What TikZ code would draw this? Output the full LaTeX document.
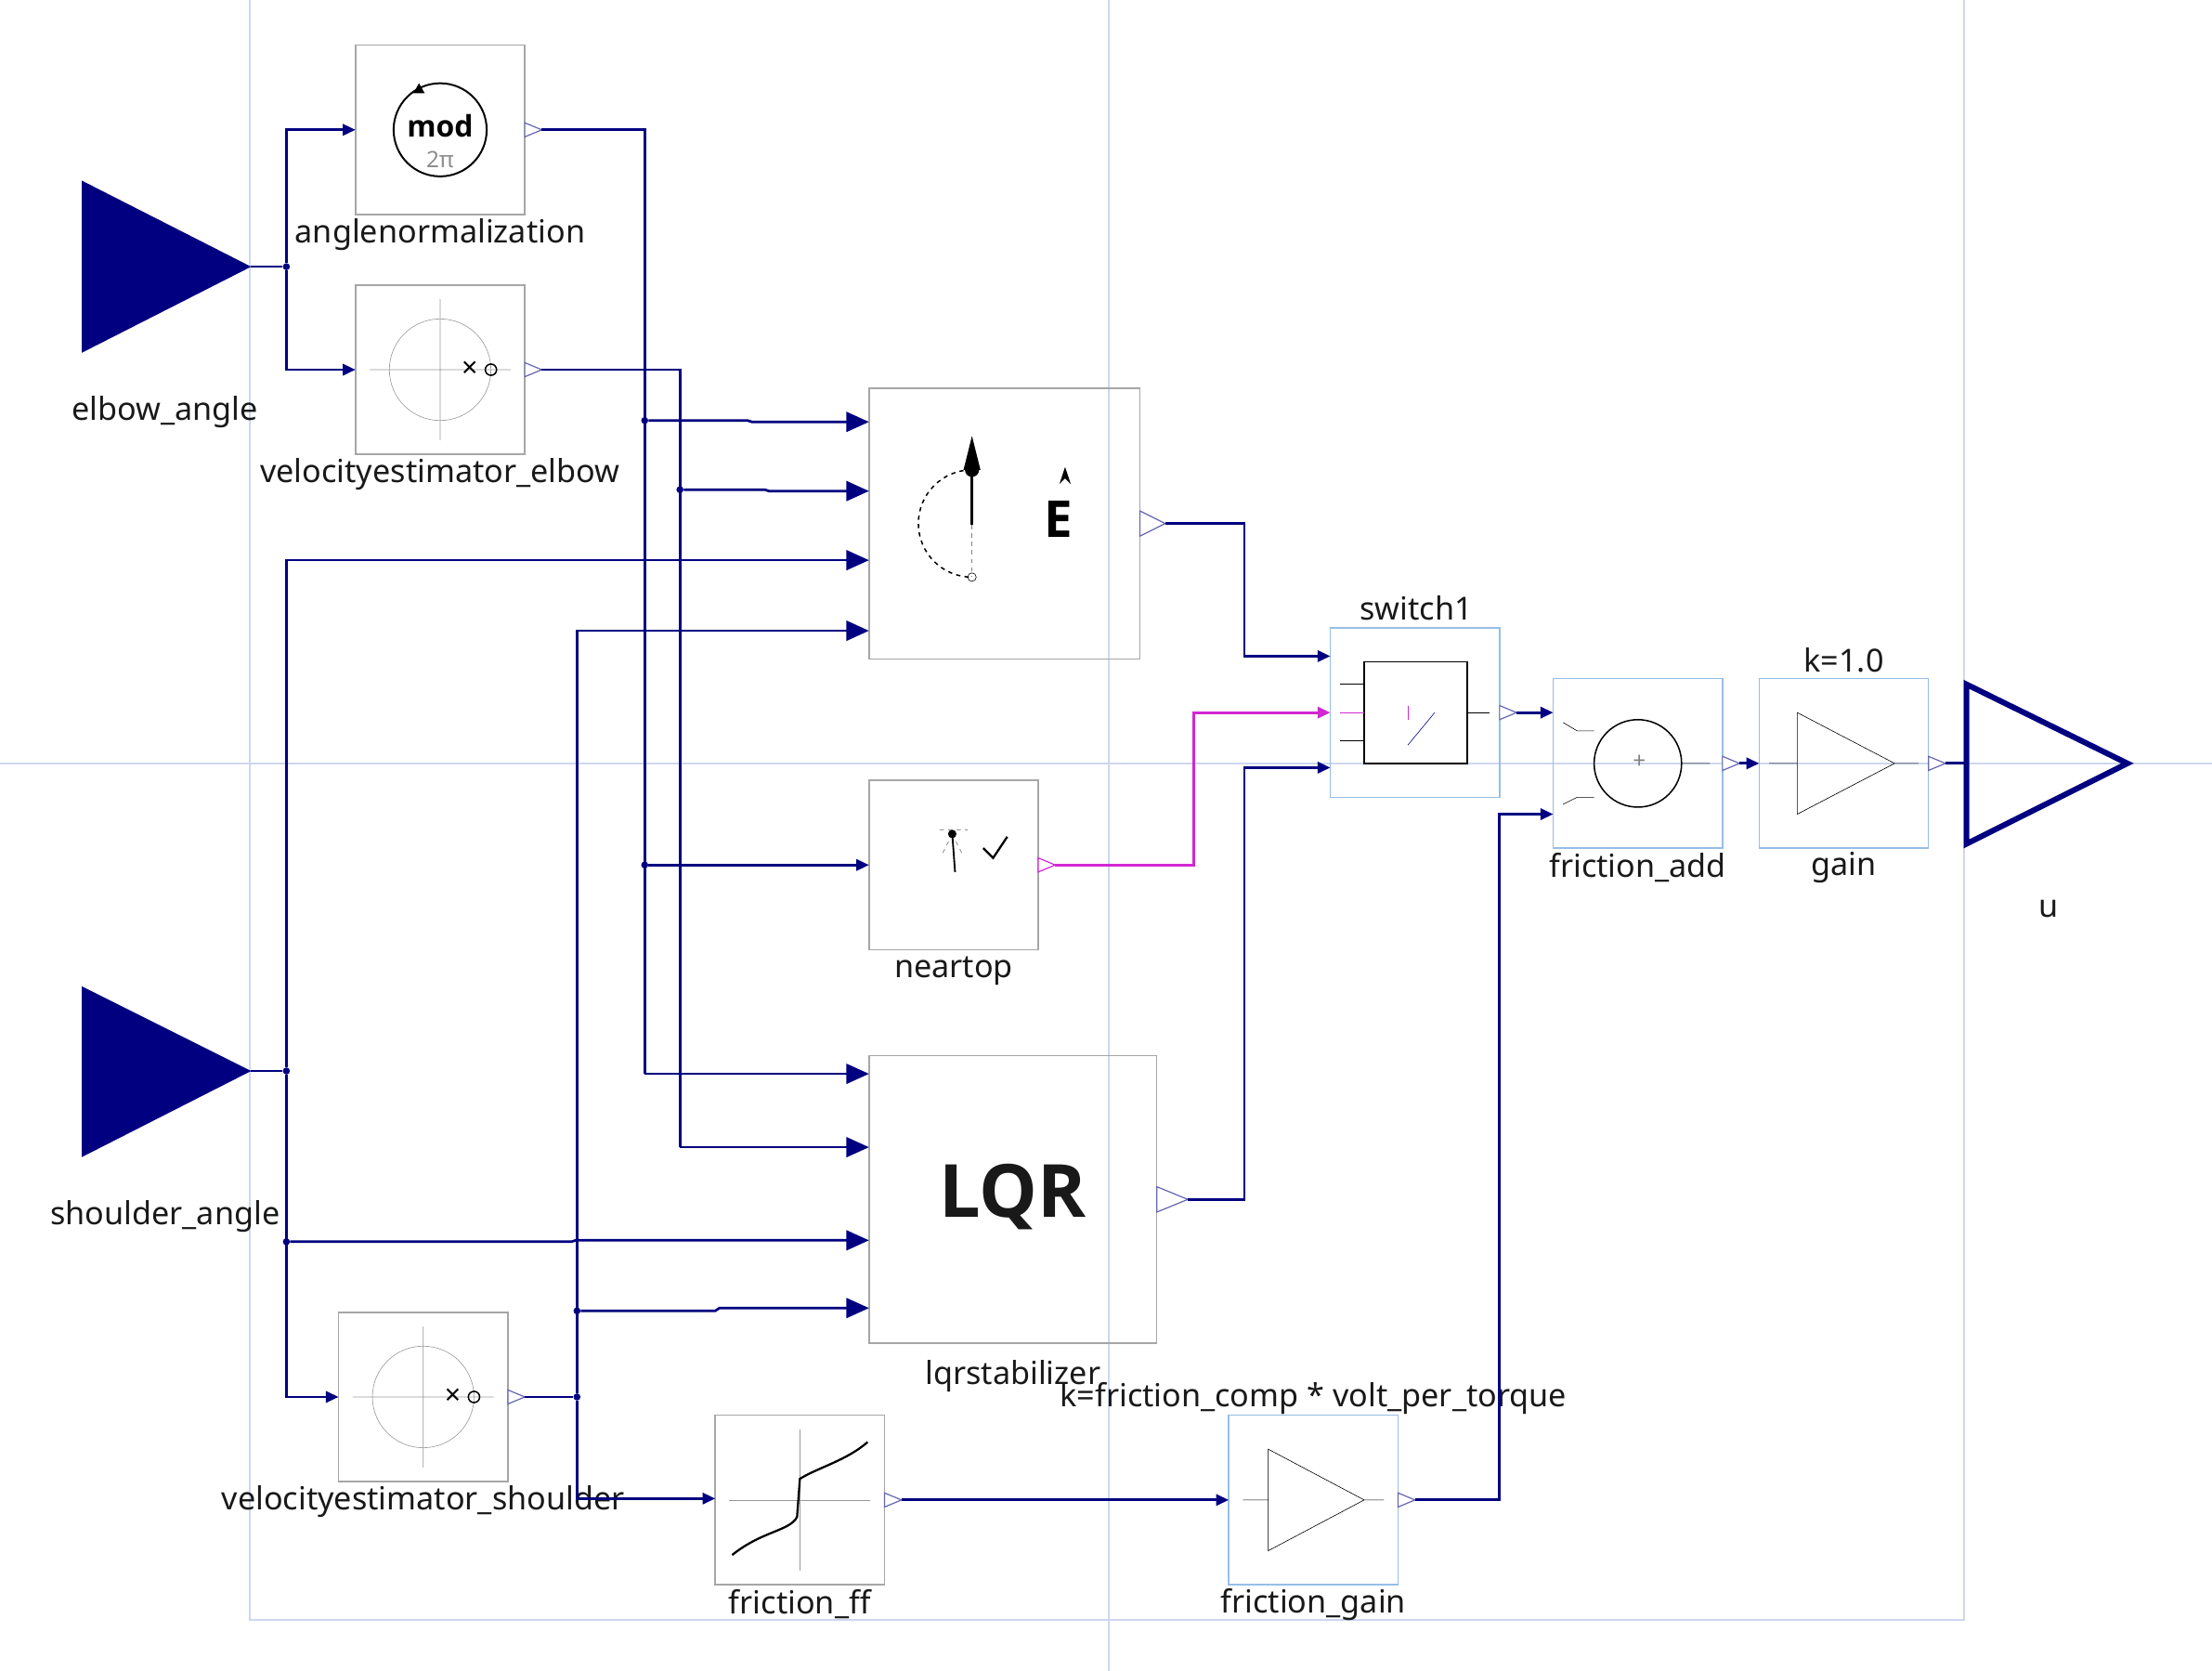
\documentclass[tikz,border=0pt]{standalone}
\usepackage{fontspec}
\setmainfont{Noto Sans}
\newfontfamily\boldfam{Open Sans}
\usetikzlibrary{arrows.meta}
\definecolor{nv}{RGB}{0,0,128}
\definecolor{grid}{RGB}{205,215,240}
\definecolor{mg}{RGB}{210,40,210}
\definecolor{lb}{RGB}{150,190,230}
\begin{document}
\begin{tikzpicture}[x=1pt,y=-1pt,
  blk/.style={draw=black!35,line width=1pt,minimum width=120pt,minimum height=120pt,inner sep=0pt},
  bblk/.style={blk,draw=lb},
  lbl/.style={font=\fontsize{22.5}{25}\selectfont,text=black!90},
  w/.style={draw=nv,line width=1.8pt},
  a/.style={w,-{Triangle[length=16pt,width=14pt]}},
  sa/.style={w,-{Triangle[length=9pt,width=8pt]}},
  dot/.style={circle,fill=nv,inner sep=0pt,minimum size=5pt},
  op/.style={draw=nv!60,line width=0.8pt}]
\useasboundingbox (0,0) rectangle (1568,1184);
% grid
\draw[grid,line width=1.5pt] (177,0) -- (177,1148) -- (1392,1148) -- (1392,0);
\draw[grid,line width=1pt] (0,541) -- (1568,541) (786,0) -- (786,1184);
% inputs
\fill[nv] (58,128) -- (58,250) -- (178,189) -- cycle;
\fill[nv] (58,699) -- (58,820) -- (178,759) -- cycle;
\node[lbl] at (117,292) {elbow\_angle};
\node[lbl] at (117,862) {shoulder\_angle};
\draw[nv,line width=4pt,line join=miter] (1394,485) -- (1394,598) -- (1508,541) -- cycle;
\node[lbl] at (1452,644) {u};
% blocks
\node[blk,fill=white] (an) at (312,92) {};
\node[lbl] at (312,166) {anglenormalization};
\draw[line width=1.3pt] (312,92) circle (33pt);
\node[font=\boldfam\bfseries\fontsize{21}{24}\selectfont] at (312,89) {mod};
\node[font=\fontsize{16}{18}\selectfont,text=black!45] at (312,113) {2π};
\fill (297,59) -- (301,66) -- (293,66) -- cycle;
\node[blk,fill=white] (ve) at (312,262) {};
\node[lbl] at (312,336) {velocityestimator\_elbow};
\node[blk,fill=white] (vs) at (300,990) {};
\node[lbl] at (300,1064) {velocityestimator\_shoulder};
\foreach \cx/\cy in {312/262,300/990}{
 \begin{scope}[shift={(\cx,\cy)}]
 \draw[black!40] (0,0) circle (36pt) (-50,0)--(50,0) (0,-50)--(0,50);
 \node[font=\fontsize{20}{22}\selectfont] at (21,0) {×};
 \draw[line width=1pt] (36,0) circle (4pt);
 \end{scope}}
\node[blk,minimum width=192pt,minimum height=192pt] (en) at (712,371) {};
\draw[dashed,line width=1pt] (689,333) arc (90:270:38pt);
\draw[line width=2pt] (689,333) -- (689,372);
\draw[dashed,black!50] (689,372) -- (689,409);
\fill (689,333) circle (5pt);
\fill (689,309) -- (695,333) -- (683,333) -- cycle;
\draw (689,409) circle (3pt);
\node[font=\boldfam\bfseries\fontsize{36}{38}\selectfont] at (750,368) {E};
\fill (755,331) -- (759,343) -- (755,339) -- (751,343) -- cycle;
\node[blk] (nt) at (676,613) {};
\node[lbl] at (676,688) {neartop};
\draw[dashed,black!60] (675,591) -- (668,605) (675,591)--(682,605) (666,588) -- (686,588);
\draw[line width=1.2pt] (675,591) -- (677,618);
\fill (675,591) circle (3pt);
\draw[line width=1.5pt] (697,601) -- (704,608) -- (714,593);
\node[blk,minimum width=204pt,minimum height=204pt] (lq) at (718,850) {};
\node[font=\boldfam\bfseries\fontsize{52}{56}\selectfont,text=black!90] at (718,848) {LQR};
\node[lbl] at (718,975) {lqrstabilizer};
\node[blk] (ff) at (567,1063) {};
\node[lbl] at (567,1137) {friction\_ff};
\draw[black!40] (517,1063) -- (617,1063) (567,1013) -- (567,1113);
\draw[line width=1.5pt] (519,1102) .. controls (540,1085) and (560,1085) .. (565,1075) -- (567,1048) .. controls (580,1040) and (600,1035) .. (615,1022);
\node[bblk] (fg) at (931,1063) {};
\node[lbl] at (931,1137) {friction\_gain};
\node[lbl] at (931,991) {k=friction\_comp * volt\_per\_torque};
\draw (899,1027) -- (899,1099) -- (967,1063) -- cycle (881,1063)--(899,1063) (967,1063)--(981,1063);
\node[bblk] (sw) at (1003,505) {};
\node[lbl] at (1004,431) {switch1};
\draw[line width=1pt] (967,469) rectangle (1040,541);
\draw (950,485) -- (967,485) (950,525)--(967,525) (1040,505)--(1056,505);
\draw[mg] (950,505) -- (967,505) (998,500) -- (998,510);
\draw[nv] (998,528) -- (1017,505);
\node[bblk] (fa) at (1161,541) {};
\node[lbl] at (1161,615) {friction\_add};
\draw[line width=1pt] (1161,541) circle (31pt);
\node[text=black!50,font=\fontsize{16}{18}\selectfont] at (1162,540) {+};
\draw (1108,512) -- (1118,518) -- (1130,518) (1108,570)--(1118,565)--(1130,565) (1192,541)--(1212,541);
\node[bblk] (gn) at (1307,541) {};
\node[lbl] at (1307,615) {gain};
\node[lbl] at (1307,468) {k=1.0};
\draw (1274,505) -- (1274,577) -- (1343,541) -- cycle (1254,541)--(1274,541) (1343,541)--(1360,541);
% output ports
\foreach \x/\y in {372/92,372/262,360/990,627/1063,991/1063,1063/505,1221/541,1367/541}{
 \draw[op,fill=white] (\x,\y-5) -- (\x+12,\y) -- (\x,\y+5) -- cycle;}
\draw[op,fill=white] (808,362) -- (826,371) -- (808,380) -- cycle;
\draw[op,fill=white] (820,841) -- (842,850) -- (820,859) -- cycle;
\draw[op,draw=mg,fill=white] (736,608) -- (748,613) -- (736,618) -- cycle;
% wires
\coordinate (e0) at (178,189); \node[dot] (d1) at (203,189) {};
\draw[w] (e0) -- (d1);
\draw[sa] (d1) |- (252,92);
\draw[sa] (d1) |- (252,262);
\draw[w] (384,92) -| (457,300);
\draw[w] (457,300) -- (457,761);
\draw[a] (457,761) -- (616,761);
\node[dot] (d2) at (457,298) {}; \draw[a] (d2) -- (530,298) -- (533,299) -- (616,299);
\node[dot] (d3) at (457,613) {}; \draw[sa] (d3) -- (616,613);
\draw[w] (384,262) -| (482,813);
\draw[a] (482,813) -- (616,813);
\node[dot] (d4) at (482,347) {}; \draw[a] (d4) -- (542,347) -- (545,348) -- (616,348);
\coordinate (s0) at (178,759); \node[dot] (d5) at (203,759) {};
\draw[w] (s0) -- (d5);
\draw[a] (d5) |- (616,397);
\draw[sa] (d5) |- (240,990);
\node[dot] (d6) at (203,880) {}; \draw[a] (d6) -- (405,880) -- (408,879) -- (616,879);
\node[dot] (d7) at (409,990) {};
\draw[w] (372,990) -- (d7);
\draw[a] (d7) |- (616,447);
\draw[sa] (d7) |- (507,1062);
\node[dot] (d8) at (409,929) {}; \draw[a] (d8) -- (507,929) -- (510,927) -- (616,927);
\draw[sa] (639,1063) -- (871,1063);
\draw[sa] (1003,1063) -- (1063,1063) |- (1101,577);
\draw[sa] (826,371) -- (882,371) |- (943,465);
\draw[sa,draw=mg] (748,613) -- (846,613) |- (943,505);
\draw[sa] (842,850) -- (882,850) |- (943,544);
\draw[sa] (1075,505) -- (1101,505);
\draw[sa] (1233,541) -- (1247,541);
\draw[w] (1379,541) -- (1394,541);
\end{tikzpicture}
\end{document}
